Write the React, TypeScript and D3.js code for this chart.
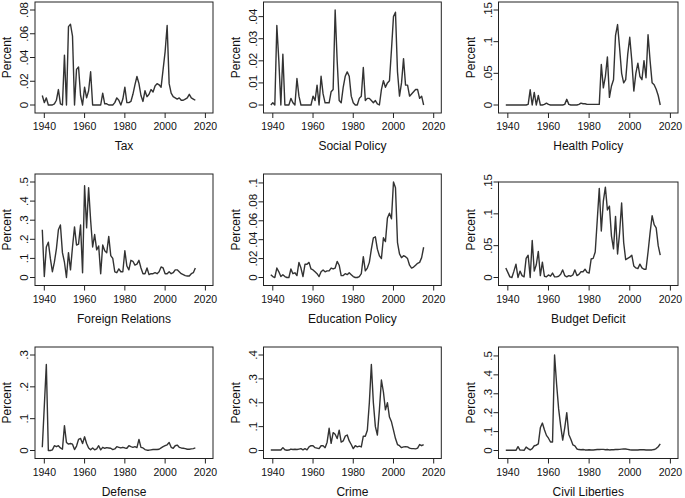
import React from "react";
import * as d3 from "d3";

const YEARS = d3.range(1939, 2016);
const X_TICKS = [1940, 1960, 1980, 2000, 2020];

const TITLES = [
  "Tax", "Social Policy", "Health Policy",
  "Foreign Relations", "Education Policy", "Budget Deficit",
  "Defense", "Crime", "Civil Liberties",
];

const TAX = [
  0.008,
  0.002, 0.006, 0, 0, 0, 0.001, 0.004, 0.013, 0.001, 0,
  0.042, 0, 0.066, 0.068, 0.058, 0, 0.03, 0.032, 0.008, 0,
  0.015, 0.006, 0.012, 0.028, 0, 0, 0, 0, 0, 0.01,
  0.001, 0.001, 0, 0, 0, 0.002, 0.006, 0.004, 0, 0.005,
  0.015, 0.002, 0.002, 0.003, 0.009, 0.017, 0.024, 0.018, 0.008, 0.003,
  0.012, 0.007, 0.009, 0.013, 0.011, 0.016, 0.018, 0.017, 0.015, 0.03,
  0.045, 0.067, 0.018, 0.01, 0.007, 0.006, 0.005, 0.006, 0.004, 0.004,
  0.005, 0.006, 0.009, 0.006, 0.005, 0.004,
];

const SOCIAL = [
  0,
  0.001, 0, 0.036, 0.02, 0, 0.023, 0, 0, 0, 0.003,
  0.001, 0, 0.012, 0.004, 0, 0, 0, 0, 0, 0,
  0.004, 0.002, 0.009, 0, 0.013, 0.005, 0.001, 0.001, 0.001, 0.006,
  0.007, 0.043, 0.02, 0.002, 0.001, 0.008, 0.013, 0.015, 0.013, 0.004,
  0.001, 0, 0, 0.003, 0.004, 0.017, 0.002, 0.003, 0.003, 0.002,
  0.001, 0.002, 0.0005, 0, 0.007, 0.011, 0.008, 0.01, 0.011, 0.025,
  0.04, 0.042, 0.015, 0.004, 0.01, 0.021, 0.009, 0.009, 0.004, 0.005,
  0.006, 0.007, 0.007, 0.003, 0.004, 0,
];

const HEALTH = [
  0,
  0, 0, 0, 0, 0, 0, 0, 0, 0, 0,
  0.001, 0.024, 0, 0.02, 0, 0.015, 0, 0, 0.001, 0.003,
  0.001, 0, 0, 0, 0, 0, 0, 0, 0.001, 0.009,
  0.001, 0, 0, 0, 0, 0.001, 0.003, 0.002, 0.002, 0.001,
  0.001, 0.001, 0.001, 0.001, 0.001, 0.001, 0.064, 0.027, 0.045, 0.076,
  0.012, 0.03, 0.04, 0.11, 0.127, 0.09, 0.05, 0.035, 0.04, 0.08,
  0.107, 0.07, 0.022, 0.05, 0.066, 0.045, 0.04, 0.07, 0.043, 0.111,
  0.07, 0.035, 0.032, 0.025, 0.015, 0,
];

const FOREIGN = [
  0.25,
  0.005, 0.16, 0.185, 0.1, 0.03, 0.08, 0.15, 0.25, 0.275, 0.13,
  0.08, 0, 0.13, 0.04, 0.16, 0.265, 0.17, 0.175, 0.275, 0.025,
  0.48, 0.26, 0.47, 0.3, 0.16, 0.225, 0.145, 0.165, 0.02, 0.17,
  0.14, 0.13, 0.215, 0.115, 0.1, 0.03, 0.025, 0.045, 0.03, 0.03,
  0.14, 0.06, 0.04, 0.09, 0.085, 0.065, 0.07, 0.09, 0.05, 0.02,
  0.02, 0.05, 0.015, 0.02, 0.02, 0.025, 0.02, 0.03, 0.055, 0.05,
  0.02, 0.02, 0.03, 0.02, 0.025, 0.04, 0.04, 0.03, 0.02, 0.015,
  0.01, 0.008, 0.008, 0.02, 0.025, 0.05,
];

const EDUCATION = [
  0.003,
  0.001, 0, 0.01, 0.006, 0.001, 0.003, 0.001, 0, 0, 0.009,
  0.004, 0.005, 0.002, 0.016, 0.01, 0.001, 0.014, 0.014, 0.016, 0.009,
  0.008, 0.006, 0.004, 0.001, 0.006, 0.008, 0.006, 0.007, 0.007, 0.01,
  0.009, 0.01, 0.017, 0.013, 0.002, 0.002, 0.004, 0.003, 0.005, 0.003,
  0.001, 0, 0, 0.001, 0.004, 0.022, 0.007, 0.01, 0.016, 0.03,
  0.042, 0.043, 0.03, 0.023, 0.02, 0.042, 0.038, 0.063, 0.068, 0.062,
  0.101, 0.095, 0.037, 0.025, 0.021, 0.023, 0.022, 0.02, 0.013, 0.01,
  0.011, 0.013, 0.015, 0.016, 0.021, 0.032,
];

const BUDGET = [
  0.015,
  0.008, 0.001, 0, 0.01, 0.021, 0, 0.01, 0.003, 0.001, 0.03,
  0.035, 0, 0.058, 0.01, 0.02, 0.041, 0.003, 0.024, 0.002, 0.001,
  0.004, 0.002, 0.007, 0.001, 0.001, 0.002, 0.005, 0.012, 0.003, 0.001,
  0.003, 0.002, 0.004, 0.012, 0.003, 0.005, 0.009, 0.009, 0.013, 0.008,
  0.007, 0.029, 0.03, 0.04, 0.09, 0.14, 0.073, 0.12, 0.142, 0.106,
  0.112, 0.065, 0.045, 0.096, 0.037, 0.07, 0.117, 0.055, 0.028, 0.03,
  0.032, 0.035, 0.018, 0.015, 0.014, 0.021, 0.015, 0.013, 0.013, 0.04,
  0.07, 0.097, 0.083, 0.078, 0.05, 0.035,
];

const DEFENSE = [
  0.01,
  0.14, 0.27, 0, 0, 0.002, 0.015, 0.012, 0.015, 0.008, 0.004,
  0.078, 0.025, 0.02, 0.022, 0.02, 0.003, 0.014, 0.035, 0.038, 0.022,
  0.043, 0.022, 0.008, 0.002, 0.008, 0.002, 0.005, 0.015, 0.002, 0.01,
  0.007, 0.009, 0.008, 0.007, 0.003, 0.005, 0.012, 0.01, 0.008, 0.01,
  0.008, 0.007, 0.015, 0.012, 0.01, 0.012, 0.009, 0.035, 0.01, 0.008,
  0.003, 0.001, 0.001, 0.002, 0.003, 0.003, 0.003, 0.004, 0.008, 0.012,
  0.015, 0.018, 0.025, 0.01, 0.007, 0.015, 0.017, 0.01, 0.008, 0.007,
  0.006, 0.004, 0.004, 0.005, 0.006, 0.008,
];

const CRIME = [
  0.002,
  0.002, 0.002, 0.002, 0.002, 0.002, 0.012, 0.003, 0.001, 0.002, 0.006,
  0.004, 0.005, 0.004, 0.006, 0.008, 0.003, 0.008, 0.003, 0.015, 0.02,
  0.02, 0.012, 0.01, 0.008, 0.02, 0.02, 0.012, 0.035, 0.093, 0.03,
  0.075, 0.068, 0.05, 0.085, 0.035, 0.04, 0.06, 0.065, 0.04, 0.025,
  0.008, 0.02, 0.015, 0.018, 0.015, 0.06, 0.06, 0.085, 0.2, 0.36,
  0.2, 0.1, 0.065, 0.17, 0.295, 0.245, 0.17, 0.2, 0.14, 0.12,
  0.085, 0.05, 0.025, 0.02, 0.012, 0.015, 0.016, 0.015, 0.01, 0.008,
  0.008, 0.007, 0.01, 0.025, 0.02, 0.025,
];

const CIVIL = [
  0.001,
  0.001, 0.001, 0.001, 0.001, 0.001, 0.02, 0.002, 0.002, 0.001, 0.018,
  0.01, 0.003, 0.01, 0.025, 0.028, 0.035, 0.12, 0.145, 0.11, 0.08,
  0.065, 0.045, 0.045, 0.505, 0.35, 0.22, 0.13, 0.055, 0.12, 0.2,
  0.085, 0.06, 0.03, 0.025, 0.008, 0.005, 0.004, 0.005, 0.003, 0.003,
  0.004, 0.003, 0.003, 0.004, 0.005, 0.005, 0.006, 0.006, 0.004, 0.005,
  0.003, 0.004, 0.004, 0.005, 0.005, 0.006, 0.007, 0.008, 0.008, 0.006,
  0.004, 0.003, 0.003, 0.003, 0.003, 0.004, 0.004, 0.004, 0.003, 0.003,
  0.003, 0.003, 0.005, 0.01, 0.02, 0.035,
];

const SERIES = [TAX, SOCIAL, HEALTH, FOREIGN, EDUCATION, BUDGET, DEFENSE, CRIME, CIVIL];

const Y_TICKS = [
  [0, 0.02, 0.04, 0.06, 0.08],
  [0, 0.01, 0.02, 0.03, 0.04],
  [0, 0.05, 0.1, 0.15],
  [0, 0.1, 0.2, 0.3, 0.4, 0.5],
  [0, 0.02, 0.04, 0.06, 0.08, 0.1],
  [0, 0.05, 0.1, 0.15],
  [0, 0.1, 0.2, 0.3],
  [0, 0.1, 0.2, 0.3, 0.4],
  [0, 0.1, 0.2, 0.3, 0.4, 0.5],
];

// layout
const COL_LEFT = [35, 263.5, 498.5];
const COL_RIGHT = [213, 441.3, 678];
const ROW_INNER_TOP = [10, 182, 355];
const ROW_ZERO = [105, 277.5, 450.5];
const PAD = 8;
const TIGHT_TOP = new Set([5]);

const FONT = "'Liberation Sans', Arial, Helvetica, sans-serif";
const LINE_COLOR = "#333";
const AXIS_COLOR = "#222";

const fmt = (v: number) =>
  v === 0 ? "0" : String(+v.toFixed(3)).replace(/^0\./, ".");

function Panel({ idx }: { idx: number }) {
  const col = idx % 3;
  const row = Math.floor(idx / 3);
  const values = SERIES[idx];
  const ticks = Y_TICKS[idx];
  const left = COL_LEFT[col];
  const right = COL_RIGHT[col];
  const innerTop = ROW_INNER_TOP[row];
  const zeroY = ROW_ZERO[row];
  const boxTop = TIGHT_TOP.has(idx) ? innerTop : innerTop - PAD;
  const boxBottom = zeroY + PAD;

  const yMax = Math.max(d3.max(values) as number, ticks[ticks.length - 1]);
  const x = d3.scaleLinear().domain([1939, 2020]).range([left + 7.3, right - 7.6]);
  const y = d3.scaleLinear().domain([0, yMax]).range([zeroY, innerTop]);

  const line = d3
    .line<number>()
    .x((_, i) => x(YEARS[i]))
    .y((d) => y(d));

  const midY = (innerTop + zeroY) / 2;

  return (
    <g>
      <rect
        x={left}
        y={boxTop}
        width={right - left}
        height={boxBottom - boxTop}
        fill="white"
        stroke={AXIS_COLOR}
        strokeWidth={1}
      />
      <path d={line(values) || ""} fill="none" stroke={LINE_COLOR} strokeWidth={1.4} strokeLinejoin="round" />
      {ticks.map((t) => (
        <g key={t}>
          <line x1={left - 5} x2={left} y1={y(t)} y2={y(t)} stroke={AXIS_COLOR} strokeWidth={1} />
          <text
            transform={`translate(${left - 7},${y(t)}) rotate(-90)`}
            textAnchor="middle"
            fontFamily={FONT}
            fontSize={11.5}
            fill="#111"
          >
            {fmt(t)}
          </text>
        </g>
      ))}
      {X_TICKS.map((t) => (
        <g key={t}>
          <line x1={x(t)} x2={x(t)} y1={boxBottom} y2={boxBottom + 5} stroke={AXIS_COLOR} strokeWidth={1} />
          <text x={x(t)} y={boxBottom + 17} textAnchor="middle" fontFamily={FONT} fontSize={10.5} fill="#111">
            {t}
          </text>
        </g>
      ))}
      <text
        transform={`translate(${left - 24},${midY}) rotate(-90)`}
        textAnchor="middle"
        fontFamily={FONT}
        fontSize={12}
        fill="#111"
      >
        Percent
      </text>
      <text
        x={(left + right) / 2}
        y={boxBottom + 37}
        textAnchor="middle"
        fontFamily={FONT}
        fontSize={12}
        fill="#111"
      >
        {TITLES[idx]}
      </text>
    </g>
  );
}

export default function App() {
  return (
    <svg
      width={685}
      height={498}
      viewBox="0 0 685 498"
      style={{ position: "absolute", left: 0, top: 0, background: "white" }}
    >
      <rect x={0} y={0} width={685} height={498} fill="white" />
      {TITLES.map((_, i) => (
        <Panel key={i} idx={i} />
      ))}
    </svg>
  );
}
